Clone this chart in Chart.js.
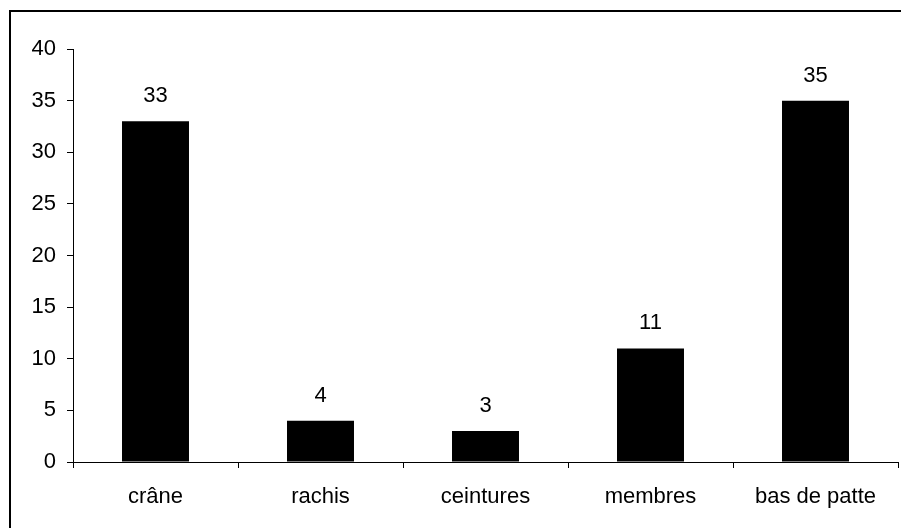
<!DOCTYPE html>
<html>
<head>
<meta charset="utf-8">
<script src="https://cdn.jsdelivr.net/npm/chart.js@4/dist/chart.umd.min.js"></script>
<style>
  html, body { margin: 0; padding: 0; background: #fff; }
  #wrap { width: 901px; height: 528px; position: relative; }
</style>
</head>
<body>
<div id="wrap"><canvas id="c" width="901" height="528"></canvas></div>
<script>
// Skeleton region counts
const categories = ['crâne', 'rachis', 'ceintures', 'membres', 'bas de patte'];
const counts = [33, 4, 3, 11, 35];
const yTicks = [0, 5, 10, 15, 20, 25, 30, 35, 40];

const FONT = { family: '"Liberation Sans", Arial, sans-serif', size: 22 };

// Thin frame along the top and left edges of the figure
const framePlugin = {
  id: 'frame',
  beforeDraw(chart) {
    const ctx = chart.ctx;
    ctx.save();
    ctx.fillStyle = '#fff';
    ctx.fillRect(0, 0, chart.width, chart.height);
    ctx.fillStyle = '#000';
    ctx.fillRect(9, 10, chart.width - 9, 2);
    ctx.fillRect(9, 10, 2, chart.height - 10);
    ctx.restore();
  }
};

// Value printed above each bar
const valueLabels = {
  id: 'valueLabels',
  afterDatasetsDraw(chart) {
    const ctx = chart.ctx;
    const meta = chart.getDatasetMeta(0);
    ctx.save();
    ctx.fillStyle = '#000';
    ctx.font = FONT.size + 'px ' + FONT.family;
    ctx.textAlign = 'center';
    ctx.textBaseline = 'alphabetic';
    meta.data.forEach((bar, i) => {
      ctx.fillText(String(counts[i]), bar.x, bar.y - 19);
    });
    ctx.restore();
  }
};

new Chart(document.getElementById('c'), {
  type: 'bar',
  data: {
    labels: categories,
    datasets: [{
      data: counts,
      backgroundColor: '#000',
      borderWidth: 0,
      categoryPercentage: 0.406,
      barPercentage: 1.0
    }]
  },
  options: {
    responsive: false,
    animation: false,
    events: [],
    layout: { padding: { left: 0, right: 3, top: 49, bottom: 0 } },
    plugins: { legend: { display: false }, tooltip: { enabled: false } },
    scales: {
      x: {
        grid: { display: true, offset: true, drawOnChartArea: false, tickLength: 6, color: '#000', lineWidth: 1 },
        border: { display: true, color: '#000', width: 1 },
        ticks: { color: '#000', font: FONT, padding: 16, maxRotation: 0, autoSkip: false },
        afterFit(scale) { scale.height = 66; }
      },
      y: {
        min: 0,
        max: 40,
        afterBuildTicks(scale) { scale.ticks = yTicks.map(v => ({ value: v })); },
        grid: { display: true, drawOnChartArea: false, tickLength: 6, color: '#000', lineWidth: 1 },
        border: { display: true, color: '#000', width: 1 },
        ticks: { color: '#000', font: FONT, padding: 11 },
        afterFit(scale) { scale.width = 73; }
      }
    }
  },
  plugins: [framePlugin, valueLabels]
});
</script>
</body>
</html>
